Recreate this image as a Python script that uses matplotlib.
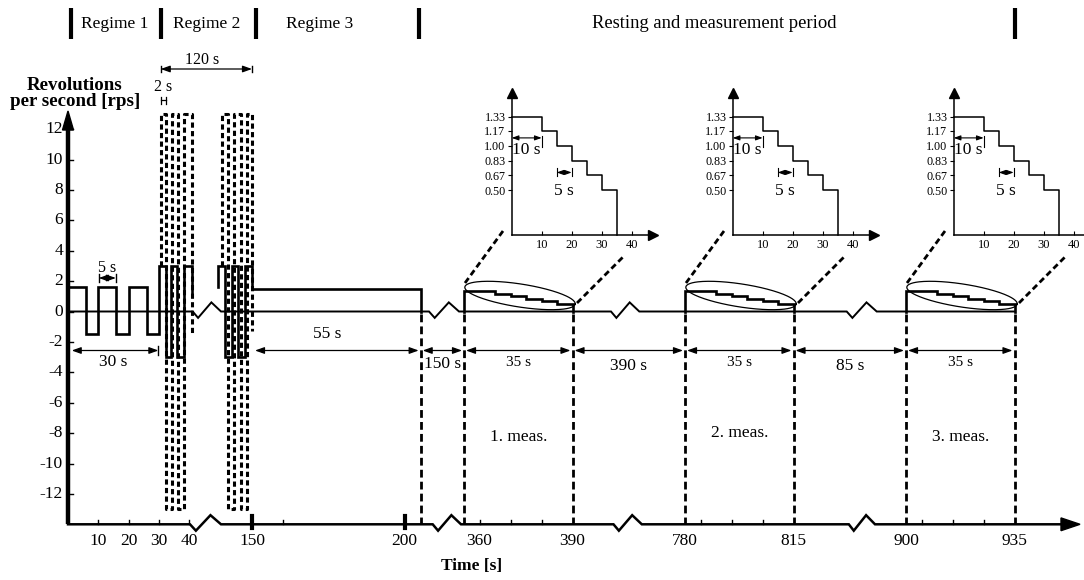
import matplotlib
matplotlib.use('Agg')
import matplotlib.pyplot as plt
import numpy as np

plt.rcParams['font.family'] = ['Liberation Serif', 'DejaVu Serif']

# ---------------- data ----------------
# main y ticks (rps)
ytick_values = [-12, -10, -8, -6, -4, -2, 0, 2, 4, 6, 8, 10, 12]
# labelled time ticks
xtick_times = [10, 20, 30, 40, 150, 200, 360, 390, 780, 815, 900, 935]
minor_tick_times = [10, 20, 30, 40, 160, 360, 370, 380, 785, 795, 805, 905, 915, 925]
thick_tick_times = [150, 200]

# Regime 1 (+ solid part of regime 2, first group)
wave1_edges = [0, 6, 10, 16, 20, 26, 30, 32.2, 34, 36.1, 38.2, 40.8]
wave1_levels = [1.6, -1.5, 1.6, -1.5, 1.6, -1.5, 3, -3, 3, -3, 3]
wave1_end = 1.0
# Regime 2 (second group, solid) + Regime 3
wave2_edges = [139, 141.1, 143.3, 145.5, 147.7, 150, 205.3]
wave2_levels = [3, -3, 3, -3, 3, 1.5]
wave2_start = 1.6
wave2_end = 0
# Regime 2 dashed +-13 rps pulses
dash1_edges = [30.6, 32.3, 34.3, 36.4, 38.4, 40.8]
dash1_levels = [13, -13, 13, -13, 13]
dash1_start, dash1_end = 3, -1.5
dash2_edges = [140, 142, 144.2, 146.4, 148.2, 150]
dash2_levels = [13, -13, 13, -13, 13]
dash2_start, dash2_end = 3, -1.3

# measurement step profile
meas_offsets = [0, 10, 15, 20, 25, 30, 35]
meas_levels = [1.33, 1.17, 1.00, 0.83, 0.67, 0.50]
meas_starts = [355, 780, 900]
meas_labels = ['1. meas.', '2. meas.', '3. meas.']
boundary_times = [205.3, 355, 390, 780, 815, 900, 935]
inset_xticks = [10, 20, 30, 40]

# durations in the bottom row
dur_labels = ['55 s', '150 s', '35 s', '390 s', '35 s', '85 s', '35 s']

# ---------------- scales ----------------
W, H = 1084, 580
V0PX, PXV = 311.5, 15.2          # y pixel of 0 rps, pixels per rps
# piecewise time axis: (t_lo, t_hi, t_anchor, x_anchor, px_per_s)
SEGS = [(0, 41, 0, 68.0, 3.03),
        (139, 206, 150, 252.0, 3.05),
        (350, 391, 355, 464.0, 3.1),
        (775, 816, 780, 685.0, 3.1),
        (895, 936, 900, 906.0, 3.1)]


def tx(t):
    for lo, hi, ta, xa, k in SEGS:
        if lo <= t <= hi:
            return xa + (t - ta) * k
    raise ValueError(t)


def pv(ypx):
    return (V0PX - ypx) / PXV


def step_path(edges, levels, start=None, end=None):
    xs, ys = [], []
    if start is not None:
        xs.append(edges[0]); ys.append(start)
    for i, lv in enumerate(levels):
        xs += [edges[i], edges[i + 1]]
        ys += [lv, lv]
    if end is not None:
        xs.append(edges[-1]); ys.append(end)
    return xs, ys


fig = plt.figure(figsize=(W / 100, H / 100), dpi=100)
ax = fig.add_axes([0, 0, 1, 1])
ax.set_xlim(0, W)
ax.set_ylim(pv(H), pv(0))
ax.axis('off')

K = 'black'
FS = 12.5
DASH = (0, (1.7, 1.1))

# ---------- axes ----------
v_bottom = pv(524.3)
# zero line with break symbols
zero_breaks = [(192.7, 221.0), (429.0, 459.0), (611.0, 639.3), (846.7, 876.7)]
axis_breaks = [(190.0, 221.0), (432.7, 461.0), (613.5, 641.8), (848.8, 875.0)]


def broken_line(x_start, x_end, v, breaks, lw):
    xs, ys = [x_start], [v]
    for a, b in breaks:
        w = b - a
        xs += [a, a + 0.19 * w, a + 0.66 * w, b]
        ys += [v, v - 0.42, v + 0.6, v]
    xs.append(x_end); ys.append(v)
    ax.plot(xs, ys, color=K, lw=lw, solid_joinstyle='miter')


broken_line(tx(0), tx(935), 0, zero_breaks, 1.4)
broken_line(tx(0), 1064, v_bottom, axis_breaks, 1.8)
# x arrow head
ax.add_patch(plt.Polygon([(1080, v_bottom), (1061, v_bottom + 0.42), (1061, v_bottom - 0.42)],
                         closed=True, color=K))
# y axis
ax.plot([tx(0), tx(0)], [v_bottom, pv(126)], color=K, lw=3.2, solid_capstyle='butt')
ax.add_patch(plt.Polygon([(tx(0), pv(111)), (tx(0) - 5.5, pv(130)), (tx(0) + 5.5, pv(130))],
                         closed=True, color=K))
for v in ytick_values:
    ax.plot([tx(0), tx(0) + 5], [v, v], color=K, lw=1.0)
    ax.text(tx(0) - 5, v, f'{v}', ha='right', va='center', fontsize=FS)

for t in minor_tick_times:
    ax.plot([tx(t), tx(t)], [v_bottom, v_bottom + 0.28], color=K, lw=1.0)
for t in thick_tick_times:
    ax.plot([tx(t), tx(t)], [v_bottom - 0.25, v_bottom + 0.55], color=K, lw=3)
for t in xtick_times:
    ax.text(tx(t), pv(541), f'{t}', ha='center', va='center', fontsize=FS)

ax.text(75, pv(85), 'Revolutions', ha='center', va='center', fontsize=13.6, fontweight='bold')
ax.text(75, pv(102), 'per second [rps]', ha='center', va='center', fontsize=13.6,
        fontweight='bold')
ax.text(472, pv(566), 'Time [s]', ha='center', va='center', fontsize=FS, fontweight='bold')

# ---------- waves ----------
xs, ys = step_path(wave1_edges, wave1_levels, end=wave1_end)
ax.plot([tx(t) for t in xs], ys, color=K, lw=1.9, solid_joinstyle='miter')
xs, ys = step_path(wave2_edges, wave2_levels, start=wave2_start, end=wave2_end)
ax.plot([tx(t) for t in xs], ys, color=K, lw=1.9, solid_joinstyle='miter')
for e, l, s, en in [(dash1_edges, dash1_levels, dash1_start, dash1_end),
                    (dash2_edges, dash2_levels, dash2_start, dash2_end)]:
    xs, ys = step_path(e, l, start=s, end=en)
    ax.plot([tx(t) for t in xs], ys, color=K, lw=2.2, linestyle=DASH)

# measurement steps, ellipses, dashed guides
th = np.linspace(0, 2 * np.pi, 200)
for ms in meas_starts:
    xs, ys = step_path([ms + o for o in meas_offsets], meas_levels, start=0, end=0)
    ax.plot([tx(t) for t in xs], ys, color=K, lw=1.9, solid_joinstyle='miter')
    x0 = tx(ms)
    cx, cy, a, b, ang = x0 + 56, 295.5, 55.8, 11.5, np.deg2rad(8.8)
    ex = cx + a * np.cos(th) * np.cos(ang) - b * np.sin(th) * np.sin(ang)
    ey = cy + a * np.cos(th) * np.sin(ang) + b * np.sin(th) * np.cos(ang)
    ax.plot(ex, pv(ey), color=K, lw=0.9)
    ax.plot([x0 + 1, x0 + 39], [pv(283), pv(231)], color=K, lw=2, linestyle=(0, (2.2, 1.3)))
    ax.plot([x0 + 113, x0 + 161], [pv(303), pv(255)], color=K, lw=2, linestyle=(0, (2.2, 1.3)))

for t in boundary_times:
    ax.plot([tx(t), tx(t)], [pv(314), v_bottom], color=K, lw=2, linestyle=(0, (2.8, 1.5)))

# ---------- dimension arrows ----------
AP = dict(arrowstyle='<|-|>,head_length=0.5,head_width=0.18', color=K, lw=0.9,
          mutation_scale=11, shrinkA=0, shrinkB=0)


def dim(x0, x1, v, tx_=None, ty=None, label=None, fs=FS, bars=(), barh=(0, 0)):
    ax.annotate('', xy=(x1, v), xytext=(x0, v), arrowprops=AP)
    for bx in bars:
        ax.plot([bx, bx], [v + barh[0], v + barh[1]], color=K, lw=1.0)
    if label:
        ax.text(tx_, ty, label, ha='center', va='center', fontsize=fs)


vrow = pv(350.5)
dim(71.7, tx(30) - 0.5, vrow, 113, pv(362), '30 s', bars=[tx(30) - 0.5], barh=(0.27, -0.3))
dim(tx(wave1_edges[2]) + 0.5, tx(15.8), pv(278), 107, pv(268), '5 s', fs=11.5,
    bars=[tx(wave1_edges[2]) + 0.5, tx(15.8)], barh=(0.25, -0.25))
dim(tx(30.6), tx(150), pv(69), 202, pv(60), '120 s', fs=11.5, bars=[tx(30.6), tx(150)],
    barh=(0.23, -0.23))
# 2 s marker
ax.plot([tx(30.6), tx(32.5)], [pv(100), pv(100)], color=K, lw=0.9)
for bx in [tx(30.6), tx(32.5)]:
    ax.plot([bx, bx], [pv(96.5), pv(103.5)], color=K, lw=0.9)
ax.text(163, pv(87), '2 s', ha='center', va='center', fontsize=11.5)

row_bounds = [tx(150) + 1] + [tx(t) for t in boundary_times]
row_text_y = [pv(334), pv(364), pv(363), pv(366), pv(363), pv(366), pv(363)]
row_fs = [FS, FS, 11, FS, 11, FS, 11]
for i, lab in enumerate(dur_labels):
    xa, xb = row_bounds[i] + 2, row_bounds[i + 1] - 2
    xc = 0.5 * (xa + xb) if i > 0 else 327
    dim(xa, xb, vrow, xc, row_text_y[i], lab, fs=row_fs[i])

meas_y = [pv(437), pv(433), pv(437)]
for ms, lab, yv in zip(meas_starts, meas_labels, meas_y):
    ax.text(tx(ms + 17.5), yv, lab, ha='center', va='center', fontsize=FS)

# ---------- regime header ----------
bar_x = [71, 161, 256, 419, 1015]
for bx in bar_x:
    ax.plot([bx, bx], [pv(8), pv(39)], color=K, lw=3, solid_capstyle='butt')
for lab, xc, fs in [('Regime 1', 115, FS), ('Regime 2', 207, FS), ('Regime 3', 320, FS),
                    ('Resting and measurement period', 714, 13.4)]:
    ax.text(xc, pv(24), lab, ha='center', va='center', fontsize=fs)

# ---------- insets ----------
for k, ms in enumerate(meas_starts):
    left_px = 511.7 + (tx(ms) - tx(meas_starts[0]))
    iax = fig.add_axes([left_px / W, (H - 234.5) / H, 141 / W, 141.8 / H])
    iax.set_xlim(0, 47)
    iax.set_ylim(0, 1.6)
    iax.patch.set_alpha(0)
    for s in ['top', 'right']:
        iax.spines[s].set_visible(False)
    for s in ['left', 'bottom']:
        iax.spines[s].set_linewidth(1.1)
    iax.plot(1, 0, '>', color=K, ms=7, transform=iax.transAxes, clip_on=False)
    iax.plot(0, 1, '^', color=K, ms=7, transform=iax.transAxes, clip_on=False)
    iax.set_xticks(inset_xticks)
    iax.set_xticklabels([str(t) for t in inset_xticks])
    iax.set_yticks(meas_levels)
    iax.set_yticklabels([f'{v:.2f}' for v in meas_levels])
    iax.tick_params(axis='x', direction='in', length=3, labelsize=9, pad=3)
    iax.tick_params(axis='y', direction='out', length=3, labelsize=8.7, pad=1.5)
    xs, ys = step_path(meas_offsets, meas_levels, end=0)
    iax.plot(xs, ys, color=K, lw=1.1, clip_on=False)
    iap = dict(AP, mutation_scale=8, lw=0.8)
    iax.annotate('', xy=(meas_offsets[1], 1.09), xytext=(0, 1.09), arrowprops=iap)
    iax.plot([meas_offsets[1]] * 2, [1.11, 0.99], color=K, lw=0.8)
    iax.text(4.9, 0.955, '10 s', ha='center', va='center', fontsize=12.5)
    iax.annotate('', xy=(meas_offsets[3], 0.70), xytext=(meas_offsets[2], 0.70), arrowprops=iap)
    for bx in meas_offsets[2:4]:
        iax.plot([bx, bx], [0.745, 0.655], color=K, lw=0.8)
    iax.text(17.5, 0.49, '5 s', ha='center', va='center', fontsize=12.5)

fig.savefig('out.png', dpi=100)
